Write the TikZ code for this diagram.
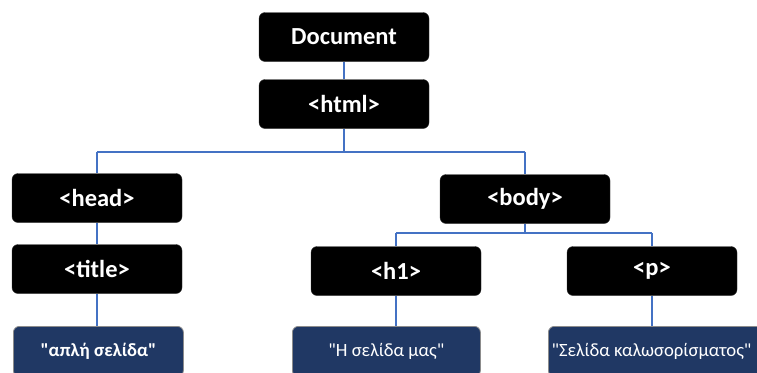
\documentclass[tikz,border=0pt]{standalone}
\usepackage{fontspec}
\setmainfont{Carlito}[Ligatures=TeXOff]
\usetikzlibrary{backgrounds}
\definecolor{linkblue}{HTML}{4472C4}
\definecolor{leafnavy}{HTML}{203864}
\tikzset{
  tag/.style={fill=black, draw=black!80, rounded corners=6pt, text=white,
    font=\bfseries\fontsize{24.5}{28}\selectfont,
    minimum width=170pt, minimum height=49pt, inner sep=0pt},
  leaf/.style={fill=leafnavy, draw=black!45, line width=0.8pt, rounded corners=6pt, text=white,
    font=\fontsize{18.7}{22}\selectfont,
    minimum height=50pt, inner sep=0pt, anchor=north west},
  leaftext/.style={text=white, font=\fontsize{18.7}{22}\selectfont, inner sep=0pt},
  link/.style={draw=linkblue, line width=2pt}
}
\begin{document}
\begin{tikzpicture}[x=1pt,y=-1pt]
\useasboundingbox (0,0) rectangle (757,372);
\begin{scope}
\clip (0,0) rectangle (757,372);
\node[tag] (doc)  at (344,37)  {Document};
\node[tag] (html) at (344,104) {<html>};
\node[tag] (head) at (97,198)  {<head>};
\node[tag] (title) at (97,269) {<title>};
\node[tag] (body) at (525,199) {<body>};
\node[tag] (h1)   at (396,271) {<h1>};
\node[tag] (p)    at (652,271) {<p>};
\node[leaf, minimum width=170pt] (t1) at (13,326) {\bfseries "απλή σελίδα"};
\node[leaf, minimum width=188pt] (t2) at (292,326) {"Η σελίδα μας"};
\node[leaf, minimum width=214pt] (t3) at (548,326) {};
\node[leaftext] (t3txt) at (651.5,351) {"Σελίδα καλωσορίσματος"};
% branch levels
\coordinate (hb) at (0,152);
\coordinate (bb) at (0,233);
\begin{scope}[on background layer]
  \draw[link] (doc) -- (html);
  \draw[link] (html) -- (html |- hb);
  \draw[link] (head |- hb) -- (body |- hb);
  \draw[link] (head |- hb) -- (head);
  \draw[link] (body |- hb) -- (body);
  \draw[link] (head) -- (title);
  \draw[link] (title) -- (t1.north -| title);
  \draw[link] (body) -- (body |- bb);
  \draw[link] (h1 |- bb) -- (p |- bb);
  \draw[link] (h1 |- bb) -- (h1);
  \draw[link] (p |- bb) -- (p);
  \draw[link] (h1) -- (h1 |- t2.north);
  \draw[link] (p) -- (p |- t3.north);
\end{scope}
\end{scope}
\end{tikzpicture}
\end{document}
